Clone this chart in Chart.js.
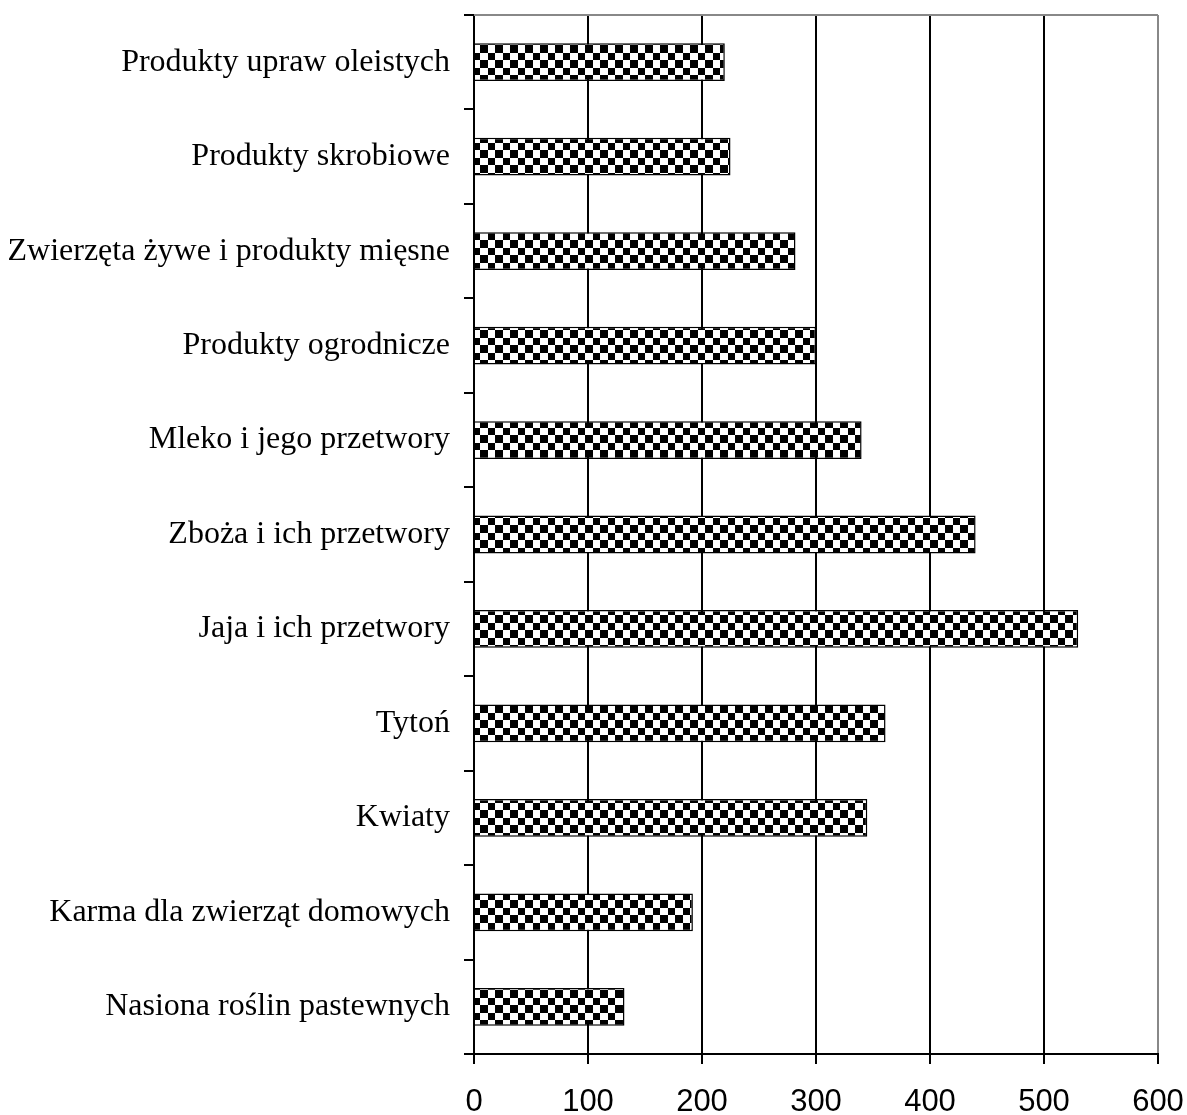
<!DOCTYPE html>
<html>
<head>
<meta charset="utf-8">
<script src="https://cdn.jsdelivr.net/npm/chart.js@4/dist/chart.umd.min.js"></script>
<style>
  html, body { margin: 0; padding: 0; background: #fff; }
  #wrap { width: 1187px; height: 1115px; }
</style>
</head>
<body>
<div id="wrap"><canvas id="chart"></canvas></div>
<script>
const categories = [
  "Produkty upraw oleistych",
  "Produkty skrobiowe",
  "Zwierzęta żywe i produkty mięsne",
  "Produkty ogrodnicze",
  "Mleko i jego przetwory",
  "Zboża i ich przetwory",
  "Jaja i ich przetwory",
  "Tytoń",
  "Kwiaty",
  "Karma dla zwierząt domowych",
  "Nasiona roślin pastewnych"
];
const values = [220, 225, 282, 300, 340, 440, 530, 361, 345, 192, 132];
const xTicks = [0, 100, 200, 300, 400, 500, 600];

// checkerboard fill
function makePattern() {
  const c = document.createElement("canvas");
  c.width = 15;
  c.height = 15;
  const g = c.getContext("2d");
  g.fillStyle = "#fff";
  g.fillRect(0, 0, 15, 15);
  g.fillStyle = "#000";
  g.fillRect(0, 0, 8, 8);
  g.fillRect(8, 8, 7, 7);
  return g.createPattern(c, "repeat");
}

const topBorder = {
  id: "topBorder",
  afterDraw(chart) {
    const { ctx, chartArea } = chart;
    ctx.save();
    ctx.strokeStyle = "#888";
    ctx.lineWidth = 2;
    ctx.beginPath();
    ctx.moveTo(chartArea.left, chartArea.top);
    ctx.lineTo(chartArea.right, chartArea.top);
    ctx.stroke();
    ctx.restore();
  }
};

new Chart(document.getElementById("chart"), {
  type: "bar",
  data: {
    labels: categories,
    datasets: [{
      data: values,
      backgroundColor: makePattern(),
      borderColor: "#000",
      borderWidth: 1.5,
      barPercentage: 0.4,
      categoryPercentage: 1
    }]
  },
  options: {
    indexAxis: "y",
    responsive: true,
    maintainAspectRatio: false,
    animation: false,
    layout: { padding: { top: 15, right: 29, left: 0, bottom: 0 } },
    plugins: {
      legend: { display: false },
      tooltip: { enabled: false }
    },
    scales: {
      x: {
        min: 0,
        max: 600,
        afterBuildTicks: (axis) => { axis.ticks = xTicks.map((v) => ({ value: v })); },
        afterFit: (axis) => {
          axis.height = 61;
          axis.paddingLeft = 0;
          axis.paddingRight = 0;
        },
        border: { color: "#000", width: 2 },
        grid: {
          color: (c) => (c.index === xTicks.length - 1 ? "#888" : "#000"),
          lineWidth: 2,
          tickColor: "#000",
          tickLength: 10
        },
        ticks: {
          color: "#000",
          padding: 20,
          font: { family: "'Liberation Sans', Arial, sans-serif", size: 31 }
        }
      },
      y: {
        afterFit: (axis) => {
          axis.width = 474;
          axis.paddingTop = 0;
          axis.paddingBottom = 0;
        },
        border: { color: "#000", width: 2 },
        grid: {
          offset: true,
          drawOnChartArea: false,
          color: "#000",
          lineWidth: 2,
          tickLength: 10
        },
        ticks: {
          color: "#000",
          padding: 14,
          font: { family: "'Liberation Serif', 'Times New Roman', serif", size: 32 }
        }
      }
    }
  },
  plugins: [topBorder]
});
</script>
</body>
</html>
